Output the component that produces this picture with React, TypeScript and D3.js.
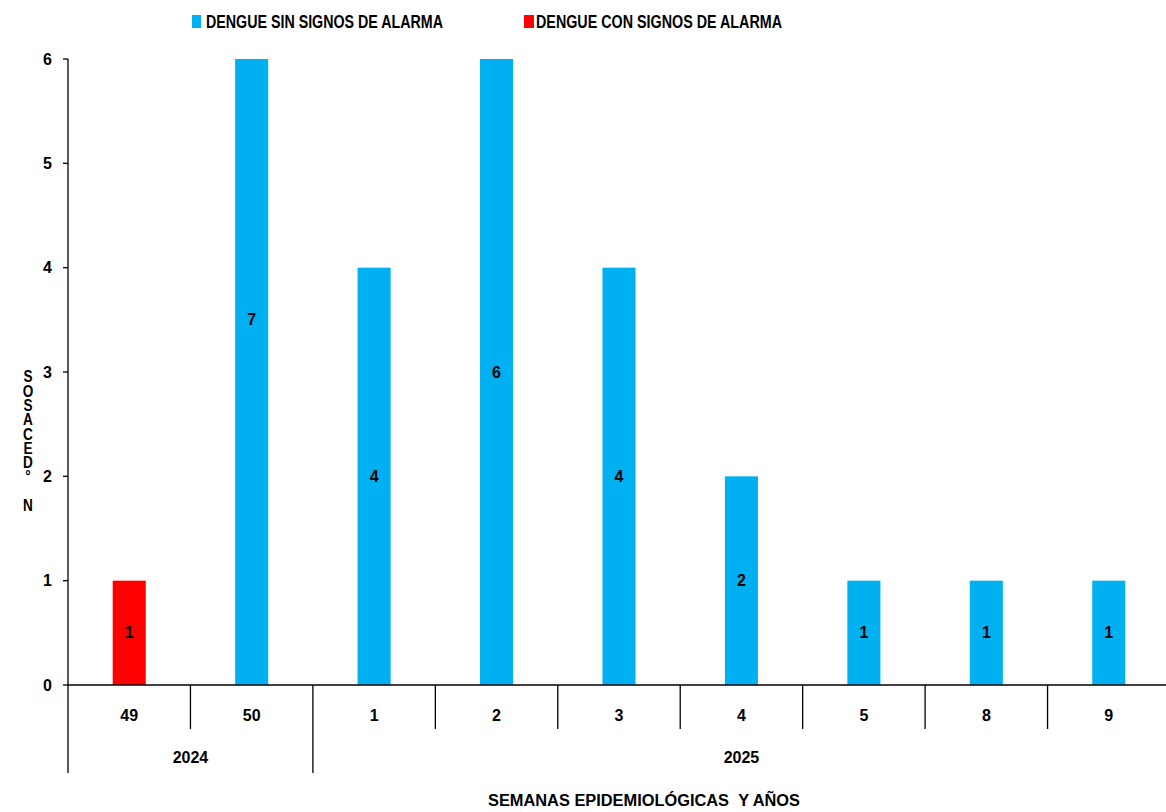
import React from "react";
import * as d3 from "d3";

const weeks = ["49", "50", "1", "2", "3", "4", "5", "8", "9"];
const years = [
  { label: "2024", start: 0, end: 1 },
  { label: "2025", start: 2, end: 8 },
];
const sinSignos = [0, 7, 4, 6, 4, 2, 1, 1, 1];
const conSignos = [1, 0, 0, 0, 0, 0, 0, 0, 0];
const yTicks = [0, 1, 2, 3, 4, 5, 6];
const seriesNames = ["DENGUE SIN SIGNOS DE ALARMA", "DENGUE CON SIGNOS DE ALARMA"];
const yTitleChars = ["S", "O", "S", "A", "C", "E", "D", "°", "", "N"];
const xTitle = "SEMANAS EPIDEMIOLÓGICAS\u00A0\u00A0Y AÑOS";

const BLUE = "#00B0F0";
const RED = "#FF0000";
const FONT = "'Liberation Sans', Arial, sans-serif";

export default function App() {
  const W = 1166;
  const H = 812;
  const left = 68;
  const right = 1170;
  const top = 59;
  const bottom = 685;

  const x = d3.scaleBand<number>().domain(weeks.map((_, i) => i)).range([left, right]).padding(0);
  const y = d3.scaleLinear().domain([0, 6]).range([bottom, top]);
  const bw = x.bandwidth() * 0.27;
  const clip = (v: number) => Math.min(v, 6);

  const bars: any[] = [];
  const labels: any[] = [];
  weeks.forEach((w, i) => {
    const cx = (x(i) as number) + x.bandwidth() / 2;
    let base = 0;
    [
      { v: conSignos[i], c: RED },
      { v: sinSignos[i], c: BLUE },
    ].forEach((s, k) => {
      if (s.v > 0) {
        const y0 = y(clip(base));
        const y1 = y(clip(base + s.v));
        bars.push(<rect key={`b${i}-${k}`} x={cx - bw / 2} y={y1} width={bw} height={y0 - y1} fill={s.c} />);
        labels.push(
          <text key={`l${i}-${k}`} x={cx} y={y(base + s.v / 2)} textAnchor="middle" dominantBaseline="central"
            fontSize={16} fontWeight="bold" fill="#000">{s.v}</text>
        );
        base += s.v;
      }
    });
  });

  return (
    <svg width={W} height={H} style={{ position: "absolute", left: 0, top: 0, fontFamily: FONT }}>
      <rect x={0} y={0} width={W} height={H} fill="#fff" />
      {/* legend */}
      <rect x={192} y={15} width={9} height={13} fill={BLUE} />
      <text x={206} y={21.5} dominantBaseline="central" fontSize={18} fontWeight="bold" textLength={237} lengthAdjust="spacingAndGlyphs">{seriesNames[0]}</text>
      <rect x={524} y={15} width={10} height={13} fill={RED} />
      <text x={536} y={21.5} dominantBaseline="central" fontSize={18} fontWeight="bold" textLength={246} lengthAdjust="spacingAndGlyphs">{seriesNames[1]}</text>

      {bars}
      {labels}

      {/* y axis */}
      <line x1={left} x2={left} y1={top} y2={773} stroke="#000" strokeWidth={1.3} />
      {yTicks.map((t) => (
        <g key={t}>
          <line x1={left - 5} x2={left} y1={y(t)} y2={y(t)} stroke="#000" strokeWidth={1.3} />
          <text x={52} y={y(t)} textAnchor="end" dominantBaseline="central" fontSize={16} fontWeight="bold">{t}</text>
        </g>
      ))}
      {yTitleChars.map((c, i) => (
        <text key={i} x={28} y={377 + i * 14.3} textAnchor="middle" dominantBaseline="central" fontSize={16} fontWeight="bold"
          transform={`translate(28,0) scale(0.85,1) translate(-28,0)`}>{c}</text>
      ))}

      {/* x axis */}
      <line x1={left} x2={W} y1={bottom} y2={bottom} stroke="#000" strokeWidth={1.5} />
      {weeks.map((w, i) => {
        const bx = x(i) as number;
        const isYear = years.some((yr) => yr.start === i);
        return (
          <g key={w}>
            {i > 0 && <line x1={bx} x2={bx} y1={bottom} y2={isYear ? 773 : 729} stroke="#000" strokeWidth={1.3} />}
            <text x={bx + x.bandwidth() / 2} y={715} textAnchor="middle" dominantBaseline="central" fontSize={16} fontWeight="bold">{w}</text>
          </g>
        );
      })}
      {years.map((yr) => {
        const x0 = x(yr.start) as number;
        const x1 = (x(yr.end) as number) + x.bandwidth();
        return (
          <text key={yr.label} x={(x0 + x1) / 2} y={757} textAnchor="middle" dominantBaseline="central" fontSize={16} fontWeight="bold">{yr.label}</text>
        );
      })}
      <text x={488} y={800.5} dominantBaseline="central" fontSize={16} fontWeight="bold" textLength={312} lengthAdjust="spacingAndGlyphs">{xTitle}</text>
    </svg>
  );
}
